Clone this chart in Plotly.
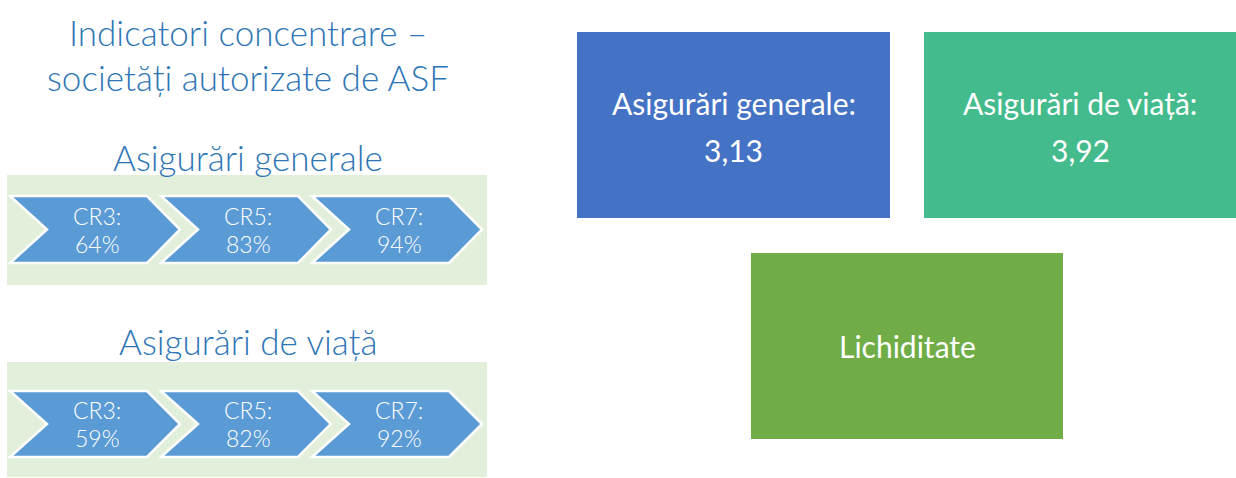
import plotly.graph_objects as go

# ---- data ----
title_lines = ["Indicatori concentrare –", "societăți autorizate de ASF"]
panel_titles = ["Asigurări generale", "Asigurări de viață"]
cr_labels = ["CR3:", "CR5:", "CR7:"]
general_cr = [64, 83, 94]
life_cr = [59, 82, 92]
box_titles = ["Asigurări generale:", "Asigurări de viață:", "Lichiditate"]
box_values = ["3,13", "3,92", ""]

# ---- style ----
W, H = 1236, 478
TITLE_COLOR = "#2E75B6"
CHEV_COLOR = "#5B9BD5"
PANEL_BG = "#E2EFDA"
BOX_COLORS = ["#4472C4", "#44BB8C", "#70AD47"]
FONT = "Lato"

fig = go.Figure()
shapes = []
annotations = []


def txt(x, y, t, size, color, weight=400):
    annotations.append(dict(x=x, y=y, text=t, showarrow=False,
                            font=dict(family=FONT, size=size, color=color, weight=weight),
                            xanchor="center", yanchor="middle"))


# title
for i, t in enumerate(title_lines):
    txt(248, 32 + i * 45, t, 35, TITLE_COLOR, 300)

panels = [dict(title_y=157, top=175, bottom=285, ctop=196, cbot=263, vals=general_cr),
          dict(title_y=341, top=362, bottom=477, ctop=391, cbot=457, vals=life_cr)]

for p, pt in zip(panels, panel_titles):
    txt(248, p["title_y"], pt, 35, TITLE_COLOR, 300)
    shapes.append(dict(type="rect", x0=7, x1=487, y0=p["top"], y1=p["bottom"],
                       fillcolor=PANEL_BG, line=dict(width=0), layer="below"))
    cy = (p["ctop"] + p["cbot"]) / 2
    for i, (lab, v) in enumerate(zip(cr_labels, p["vals"])):
        x0 = 10 + i * 151
        notch, xr, tip = x0 + 37, x0 + 137, x0 + 170
        path = (f"M {x0},{p['ctop']} L {xr},{p['ctop']} L {tip},{cy} L {xr},{p['cbot']} "
                f"L {x0},{p['cbot']} L {notch},{cy} Z")
        shapes.append(dict(type="path", path=path, fillcolor=CHEV_COLOR,
                           line=dict(color="white", width=2.5)))
        txt((notch + xr) / 2, cy - 14, lab, 23, "white", 300)
        txt((notch + xr) / 2, cy + 14, f"{v}%", 23, "white", 300)

# right boxes
boxes = [(577, 890, 32, 218), (924, 1240, 32, 218), (751, 1063, 253, 439)]
for (x0, x1, y0, y1), col, t, v in zip(boxes, BOX_COLORS, box_titles, box_values):
    shapes.append(dict(type="rect", x0=x0, x1=x1, y0=y0, y1=y1, fillcolor=col,
                       line=dict(width=0)))
    cx = (x0 + min(x1, 1236)) / 2
    if v:
        txt(cx, 103, t, 30, "white", 400)
        txt(cx, 150, v, 30, "white", 400)
    else:
        txt(cx, (y0 + y1) / 2, t, 30, "white", 400)

fig.update_layout(
    width=W, height=H, margin=dict(l=0, r=0, t=0, b=0),
    paper_bgcolor="white", plot_bgcolor="white",
    xaxis=dict(range=[0, W], visible=False, fixedrange=True),
    yaxis=dict(range=[H, 0], visible=False, fixedrange=True),
    shapes=shapes, annotations=annotations, showlegend=False,
)
fig.write_html("out.html", config={"displayModeBar": False},
               post_script="document.body.style.margin='0';document.body.style.overflow='hidden';")
